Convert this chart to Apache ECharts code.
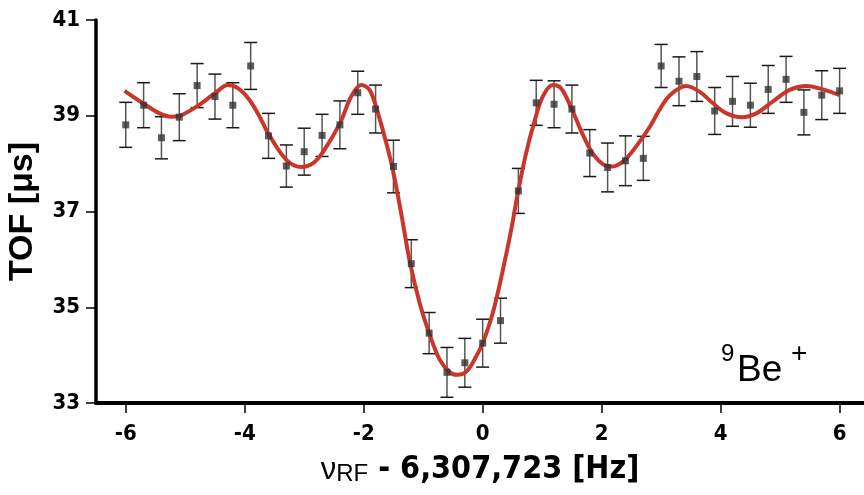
<!DOCTYPE html>
<html>
<head>
<meta charset="utf-8">
<script src="https://cdn.jsdelivr.net/npm/echarts@6/dist/echarts.min.js"></script>
<style>html,body{margin:0;padding:0;background:#fff}#c{width:864px;height:495px}</style>
</head>
<body>
<div id="c"></div>
<script>
// Measured data points (frequency offset, TOF, error)
const freq = [-6,-5.7,-5.4,-5.1,-4.8,-4.5,-4.2,-3.9,-3.6,-3.3,-3.0,-2.7,-2.4,-2.1,-1.8,-1.5,-1.2,-0.9,-0.6,-0.3,0,0.3,0.6,0.9,1.2,1.5,1.8,2.1,2.4,2.7,3.0,3.3,3.6,3.9,4.2,4.5,4.8,5.1,5.4,5.7,6.0];
const tof = [38.81,39.22,38.54,38.97,39.63,39.40,39.22,40.04,38.58,37.95,38.25,38.59,38.81,39.48,39.14,37.94,35.91,34.46,33.64,33.84,34.25,34.72,37.43,39.27,39.24,39.14,38.22,37.92,38.06,38.11,40.04,39.72,39.82,39.10,39.30,39.22,39.55,39.76,39.07,39.43,39.52];
const tofErr = [0.47,0.47,0.44,0.49,0.46,0.47,0.47,0.49,0.47,0.44,0.49,0.44,0.50,0.45,0.50,0.55,0.50,0.43,0.52,0.51,0.50,0.47,0.47,0.47,0.49,0.50,0.49,0.51,0.52,0.46,0.45,0.51,0.52,0.49,0.52,0.46,0.50,0.48,0.47,0.51,0.47];
// Fit curve
const fitX = [-6.02,-5.71,-5.43,-5.23,-5.09,-4.81,-4.5,-4.28,-4.11,-3.92,-3.75,-3.59,-3.3,-3.05,-2.85,-2.68,-2.40,-2.21,-2.04,-1.9,-1.76,-1.62,-1.51,-1.37,-1.22,-1.06,-0.90,-0.72,-0.55,-0.43,-0.27,-0.11,0.0,0.17,0.34,0.48,0.59,0.73,0.87,1.01,1.18,1.32,1.49,1.66,1.83,2.02,2.19,2.39,2.58,2.81,2.97,3.14,3.42,3.65,3.87,4.10,4.35,4.60,4.88,5.16,5.44,5.72,6.0];
const fitY = [39.52,39.26,39.05,38.98,39.0,39.19,39.47,39.64,39.57,39.33,38.98,38.60,38.08,37.93,38.01,38.25,38.84,39.40,39.64,39.54,39.05,38.43,37.87,36.96,35.92,35.09,34.46,33.90,33.64,33.59,33.66,33.97,34.25,34.88,35.78,36.62,37.38,38.22,38.88,39.40,39.64,39.57,39.16,38.67,38.25,37.99,37.94,38.08,38.36,38.77,39.12,39.42,39.62,39.50,39.26,39.05,38.97,39.05,39.30,39.54,39.62,39.55,39.43];
const xTicks = [-6,-4,-2,0,2,4,6];
const yTicks = [33,35,37,39,41];

const pts = freq.map((f,i)=>[f,tof[i],tofErr[i]]);
const fit = fitX.map((x,i)=>[x,fitY[i]]);
const chart = echarts.init(document.getElementById('c'), null, {renderer:'canvas'});
const FONT = "'Liberation Sans Narrow','DejaVu Sans Condensed','Liberation Sans',sans-serif";
chart.setOption({
  animation:false,
  backgroundColor:'#fff',
  grid:{left:96, right:0, top:20, bottom:92, containLabel:false, outerBoundsMode:'none'},
  xAxis:{
    type:'value', min:-6.5, max:6.41,
    splitLine:{show:false},
    axisLine:{onZero:false, lineStyle:{color:'#000', width:4}},
    axisTick:{customValues:xTicks, length:10, lineStyle:{color:'#000', width:1.5}},
    axisLabel:{customValues:xTicks, margin:20, color:'#000', fontFamily:FONT, fontWeight:'bold', fontSize:22},
    name:'{nu|ν}{sub|RF}{b| - 6,307,723 [Hz]}',
    nameLocation:'middle', nameGap:43,
    nameTextStyle:{
      color:'#000',
      rich:{
        nu:{fontFamily:"'Liberation Sans',sans-serif", fontSize:31, color:'#000', verticalAlign:'bottom'},
        sub:{fontFamily:"'Liberation Sans',sans-serif", fontSize:24, color:'#000', padding:[16,0,0,0], verticalAlign:'bottom'},
        b:{fontFamily:FONT, fontWeight:'bold', fontSize:32, color:'#000', verticalAlign:'bottom'}
      }
    }
  },
  yAxis:{
    type:'value', min:33, max:41, interval:2,
    splitLine:{show:false},
    axisLine:{show:true, onZero:false, lineStyle:{color:'#000', width:3.5}},
    axisTick:{show:true, length:10, lineStyle:{color:'#000', width:1.5}},
    axisLabel:{margin:16, color:'#000', fontFamily:FONT, fontWeight:'bold', fontSize:22},
    name:'TOF [μs]', nameLocation:'middle', nameGap:56, nameRotate:90,
    nameTextStyle:{color:'#000', fontFamily:"'Liberation Sans',sans-serif", fontWeight:'bold', fontSize:34}
  },
  series:[
    {
      type:'custom', z:1,
      data:pts,
      renderItem:function(params, api){
        const x=api.value(0), y=api.value(1), e=api.value(2);
        const t=api.coord([x,y+e]), b=api.coord([x,y-e]);
        const hw=6.5;
        const st={stroke:'#1a1a1a', lineWidth:1.5};
        return {type:'group', children:[
          {type:'line', shape:{x1:t[0],y1:t[1],x2:b[0],y2:b[1]}, style:Object.assign({},st,{stroke:'#555'})},
          {type:'line', shape:{x1:t[0]-hw,y1:t[1],x2:t[0]+hw,y2:t[1]}, style:st},
          {type:'line', shape:{x1:b[0]-hw,y1:b[1],x2:b[0]+hw,y2:b[1]}, style:st}
        ]};
      }
    },
    {
      type:'line', z:2, data:fit, smooth:0.35, showSymbol:false, symbol:'none',
      lineStyle:{color:'#c9362b', width:4}
    },
    {
      type:'scatter', z:3, data:pts, symbol:'rect', symbolSize:7,
      itemStyle:{color:'#333'}
    }
  ],
  graphic:[
    {type:'text', left:721, top:342, style:{text:'9', fontFamily:"'Liberation Sans',sans-serif", fontSize:24, fill:'#000'}},
    {type:'text', left:737, top:352, style:{text:'Be', fontFamily:"'Liberation Sans',sans-serif", fontSize:37, fill:'#000'}},
    {type:'text', left:791, top:340, style:{text:'+', fontFamily:"'Liberation Sans',sans-serif", fontSize:28, fill:'#000'}}
  ]
});
</script>
</body>
</html>
